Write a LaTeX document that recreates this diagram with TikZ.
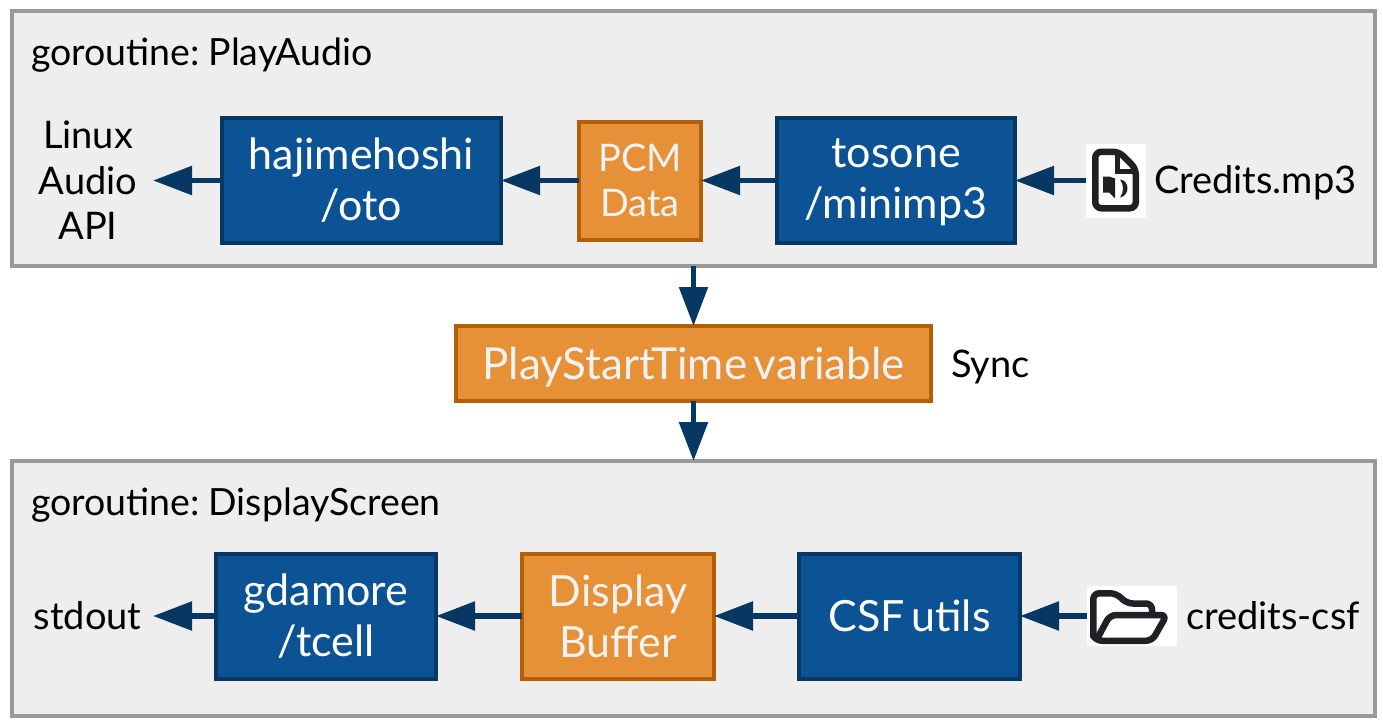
\documentclass[tikz,border=0pt]{standalone}
\usepackage{fontspec}
\setmainfont[WordSpace=0.6]{Lato}
\usepackage{tikz}
\usetikzlibrary{arrows.meta,positioning}

\definecolor{panelfill}{HTML}{EEEEEE}
\definecolor{panelline}{HTML}{999999}
\definecolor{libfill}{HTML}{0B5394}
\definecolor{libline}{HTML}{073763}
\definecolor{datafill}{HTML}{E69138}
\definecolor{dataline}{HTML}{B45F06}
\definecolor{iconink}{HTML}{202124}

\tikzset{
  panel/.style={draw=panelline,fill=panelfill,line width=4pt,outer sep=0pt,minimum width=1363pt,minimum height=255pt},
  lib/.style={draw=libline,fill=libfill,line width=4pt,outer sep=0pt,inner sep=0pt,text=white,align=center,font=\fontsize{43}{51}\selectfont},
  databox/.style={draw=dataline,fill=datafill,line width=4pt,outer sep=0pt,inner sep=0pt,text=white!95!black,align=center,font=\fontsize{43}{51}\selectfont},
  plain/.style={inner sep=0pt,outer sep=0pt,align=center,font=\fontsize{38}{45.5}\selectfont},
  gotitle/.style={inner sep=0pt,outer sep=0pt,anchor=west,font=\fontsize{37.5}{45}\selectfont},
  iconbox/.style={fill=white,inner sep=0pt,outer sep=0pt},
  iconline/.style={draw=iconink,line width=6.5pt,rounded corners=6pt,line join=round},
  flow/.style={-{Triangle[length=39pt,width=28pt]},draw=libline,line width=5.5pt}
}

\begin{document}
\begin{tikzpicture}[x=1pt,y=-1pt]
\useasboundingbox (0,0) rectangle (1383,725);

% the two goroutines
\node[panel] (audio) at (693.5,138.5) {};
\node[panel] (screen) at (693.5,588.5) {};
\node[gotitle] (audiotitle) at (31,55.5) {goroutine: PlayAudio};
\node[gotitle] (screentitle) at (31,505) {goroutine: DisplayScreen};

% audio chain
\node[lib,minimum width=238pt,minimum height=125pt] (minimp) at (896,180.5) {\vphantom{h}tosone\\/minimp3};
\node[databox,minimum width=122pt,minimum height=118pt,font=\fontsize{38}{45}\selectfont] (pcm) [left=76pt of minimp] {PCM\\Data};
\node[lib,minimum width=279pt,minimum height=125pt] (oto) [left=78pt of pcm] {hajimehoshi\\/oto};
\node[plain,minimum width=130pt] (linux) [left=69pt of oto] {Linux\\Audio\\API};
\node[iconbox,minimum width=60pt,minimum height=74pt] (mpicon) [right=71pt of minimp] {};
\node[plain,yshift=-2pt] (mpname) [right=8pt of mpicon] {Credits.mp3};

% sync
\node[databox,minimum width=475pt,minimum height=75pt,font=\fontsize{44}{51}\selectfont,text height=40pt,text depth=9pt] (sync) at (693.5,363.5) {PlayStartTime variable};
\node[plain,yshift=-3pt] (synclabel) [right=20pt of sync] {Sync};

% screen chain
\node[lib,minimum width=221pt,minimum height=125pt] (csf) at (909.5,616) {CSF utils};
\node[databox,minimum width=192pt,minimum height=125pt] (buffer) [left=85pt of csf] {Display\\Buffer};
\node[lib,minimum width=220pt,minimum height=125pt] (tcell) [left=86pt of buffer] {gdamore\\/tcell};
\node[plain,minimum width=131pt] (stdout) [left=63pt of tcell] {stdout};
\node[iconbox,minimum width=90pt,minimum height=60pt] (dir) [right=67pt of csf] {};
\node[plain] (dirname) [right=9pt of dir] {credits-csf};

% file icon
\begin{scope}[shift={(mpicon.center)}]
\draw[iconline] (-8,-28.75) -- (3,-28.75) -- (19.75,-12) -- (19.75,27.75) -- (-20.75,27.75) -- (-20.75,-28.75) -- cycle;
\draw[draw=iconink,line width=5pt] (1.5,-27) -- (1.5,-9.5) -- (18,-9.5);
\fill[iconink] (-13,-4) -- (-7,-4) -- (-1,-2) -- (-1,18) -- (-7,12) -- (-13,12) -- cycle;
\fill[iconink] (4,-1) .. controls (14,0) and (14,15) .. (4,17) .. controls (8,11) and (8,5) .. (4,-1) -- cycle;
\end{scope}

% folder icon
\begin{scope}[shift={(dir.center)}]
\draw[iconline] (-38.75,20) -- (-38.75,-22.75) -- (-16,-22.75) -- (-5,-12.5) -- (20,-12.5) -- (20,-1);
\draw[iconline] (-36,24.75) -- (-22,-1) -- (34.75,-1) -- (20,24.75) -- (-36,24.75) -- (-38.75,20);
\end{scope}

% data flow
\draw[flow] (mpicon) -- (minimp);
\draw[flow] (minimp) -- (pcm);
\draw[flow] (pcm) -- (oto);
\draw[flow] (oto) -- (linux);
\draw[flow] (audio) -- (sync);
\draw[flow] (sync) -- (screen);
\draw[flow] (dir) -- (csf);
\draw[flow] (csf) -- (buffer);
\draw[flow] (buffer) -- (tcell);
\draw[flow] (tcell) -- (stdout);
\end{tikzpicture}
\end{document}
